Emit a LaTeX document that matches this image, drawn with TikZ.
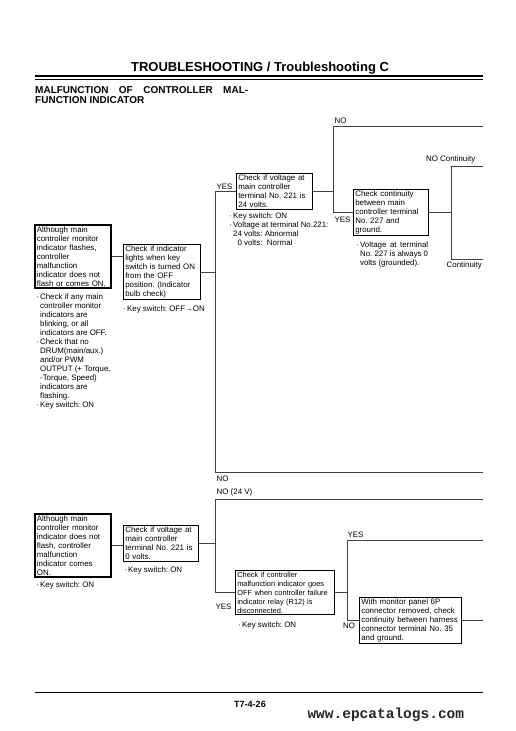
\documentclass[tikz,border=0pt]{standalone}
\usepackage{fontspec}
\setmainfont{Liberation Sans}
\newfontfamily\wwwfont{Liberation Mono}
\usetikzlibrary{calc}
\newcommand{\boxfont}{\fontsize{7.9}{9}\selectfont\frenchspacing\hyphenpenalty=10000 }
\newcommand{\smallboxfont}{\fontsize{7.4}{9}\selectfont\frenchspacing\hyphenpenalty=10000 }
\newcommand{\bul}{\textperiodcentered\,}
\newcommand{\ind}{\phantom{\bul}}
\tikzset{chkbox/.style={draw, line width=0.6pt, anchor=north west, align=left, inner xsep=2pt, inner ysep=1.5pt, font=\boxfont, text width=#1}}
\tikzset{startbox/.style={chkbox=#1, line width=1.8pt}}
\tikzset{note/.style={anchor=north west, align=left, inner sep=0pt, font=\boxfont}}
\tikzset{lbl/.style={inner sep=0.5pt, font=\boxfont}}
\tikzset{flow/.style={draw, black!75, line width=0.8pt}}

\begin{document}
\begin{tikzpicture}[x=1pt, y=-1pt]

\path[fill=white] (0,0) rectangle (516,731);

% page head
\node[anchor=base, font=\bfseries\fontsize{13}{15}\selectfont] (hdr) at (260,71) {TROUBLESHOOTING / Troubleshooting C};
\draw[line width=1.5pt] (35,76) -- (483,76);
\draw[line width=0.7pt] (35,79.5) -- (483,79.5);
\node[anchor=north west, align=left, inner sep=0pt, font=\bfseries\fontsize{10}{10}\selectfont] (ttl) at (35,86) {\makebox[213pt][s]{MALFUNCTION OF CONTROLLER MAL-}\\FUNCTION INDICATOR};

% upper chart
\node[startbox=72] (box1) at (34,224) {Although main\\controller monitor\\indicator flashes,\\controller\\malfunction\\indicator does not\\flash or comes ON.};
\node[note] (note1) at (36,294) {\bul Check if any main\\\ind controller monitor\\\ind indicators are\\\ind blinking, or all\\\ind indicators are OFF.\\\bul Check that no\\\ind DRUM(main/aux.)\\\ind and/or PWM\\\ind OUTPUT (+ Torque,\\\ind -Torque, Speed)\\\ind indicators are\\\ind flashing.\\\bul Key switch: ON};

\node[chkbox=73] (box2) at (123,244) {Check if indicator\\lights when key\\switch is turned ON\\from the OFF\\position. (Indicator\\bulb check)};
\node[note] (note2) at (123,306) {\bul Key switch: OFF→ON};

\node[chkbox=72] (box3) at (236,173) {Check if voltage at\\main controller\\terminal No. 221 is\\24 volts.};
\node[note] (note3) at (229,213) {\bul Key switch: ON\\\bul Voltage at terminal No.221:\\\ind 24 volts: Abnormal\\\ind\phantom{2}0 volts:\ \ Normal};

\node[chkbox=71] (box4) at (353,189) {Check continuity\\between main\\controller terminal\\No. 227 and\\ground.};
\node[note] (note4) at (356,242) {\makebox[72pt][s]{\bul Voltage at terminal}\\\ind\makebox[68pt][s]{No. 227 is always 0}\\\ind volts (grounded).};

\coordinate (j1) at (215,472);
\coordinate (r1) at (483,472);
\coordinate (j2) at (333,126);
\coordinate (r2) at (483,126);
\coordinate (j3) at (451,166);
\coordinate (r3) at (483,166);
\coordinate (r4) at (483,259);

\draw[flow] (box1.east) -- (box1.east -| box2.west);
\draw[flow] (box2.east) -- (box2.east -| j1);
\draw[flow] (box3.west) -| (j1) -- (r1);
\draw[flow] (r2) -- (j2) |- (box4.west);
\draw[flow] (box3.east) -- (box3.east -| j2);
\draw[flow] (r3) -- (j3) |- (r4);
\draw[flow] (box4.east) -- (box4.east -| j3);

\node[lbl, anchor=south west] (yes1) at (216,190) {YES};
\node[lbl, anchor=south west] (no2) at (334,124) {NO};
\node[lbl, anchor=north west] (yes2) at (334,216) {YES};
\node[lbl, anchor=south east] (nocont) at (476,164) {NO Continuity};
\node[lbl, anchor=north west] (cont) at (446,261) {Continuity};
\node[lbl, anchor=north west] (no1) at (216,475) {NO};

% lower chart
\node[startbox=72] (box5) at (34,513) {Although main\\controller monitor\\indicator does not\\flash, controller\\malfunction\\indicator comes\\ON.};
\node[note] (note5) at (36,582) {\bul Key switch: ON};

\node[chkbox=71] (box6) at (123,525) {Check if voltage at\\main controller\\terminal No. 221 is\\0 volts.};
\node[note] (note6) at (124,567) {\bul Key switch: ON};

\node[chkbox=95, font=\smallboxfont] (box7) at (235,570) {Check if controller\\malfunction indicator goes\\OFF when controller failure\\indicator relay (R12) is\\disconnected.};
\node[note] (note7) at (238,622) {\bul Key switch: ON};

\node[chkbox=98] (box8) at (359,597) {With monitor panel 6P\\connector removed, check\\continuity between harness\\connector terminal No. 35\\and ground.};

\coordinate (j4) at (215,499);
\coordinate (r5) at (483,499);
\coordinate (j5) at (347,540);
\coordinate (r6) at (483,540);
\coordinate (r7) at (483,620);

\draw[flow] (box5.east) -- (box5.east -| box6.west);
\draw[flow] (box6.east) -- (box6.east -| j4);
\draw[flow] (r5) -- (j4) |- (box7.west);
\draw[flow] (r6) -- (j5) |- (box8.west);
\draw[flow] (box7.east) -- (box7.east -| j5);
\draw[flow] (box8.east) -- (box8.east -| r7);

\node[lbl, anchor=south west] (no24) at (216,497) {NO (24 V)};
\node[lbl, anchor=north west] (yes3) at (215,603) {YES};
\node[lbl, anchor=south west] (yes4) at (347,538) {YES};
\node[lbl, anchor=north] (no3) at (349,622) {NO};

% page foot
\draw[line width=0.8pt] (35,692) -- (483,692);
\node[anchor=base, font=\bfseries\fontsize{9}{10}\selectfont] (pg) at (250,707) {T7-4-26};
\node[anchor=base west, font=\wwwfont\bfseries\fontsize{14.5}{14.5}\selectfont, text=black!85] (www) at (304,718) {www.epcatalogs.com};

\end{tikzpicture}
\end{document}
